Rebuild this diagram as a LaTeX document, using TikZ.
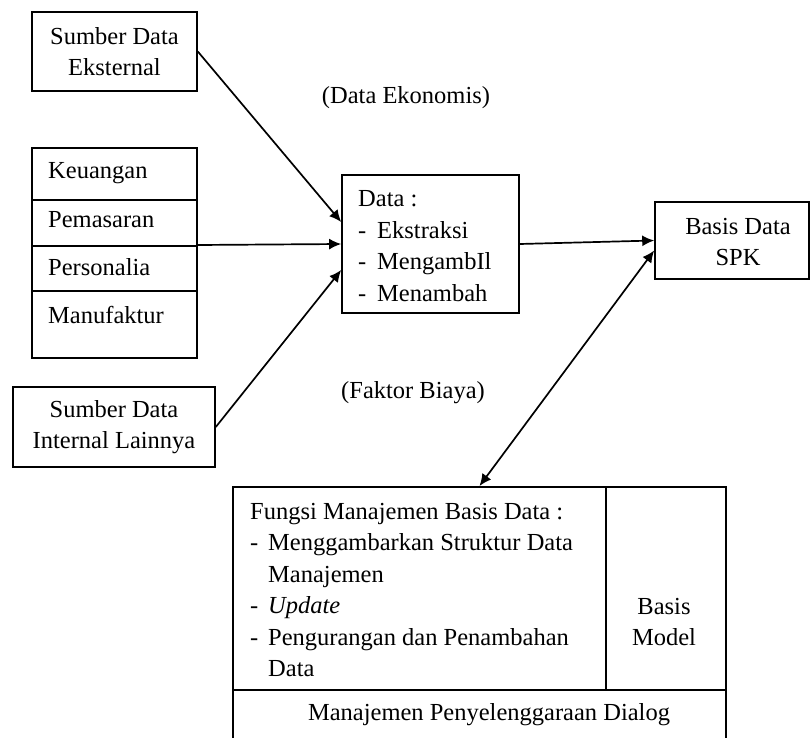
\documentclass[tikz,border=0pt]{standalone}
\usepackage{fontspec}
\setmainfont{Liberation Serif}
\usetikzlibrary{arrows.meta}
\begin{document}
\begin{tikzpicture}[x=1pt,y=-1pt,
  box/.style={draw, line width=1.6pt, inner sep=0pt, align=center},
  txt/.style={inner sep=0pt, align=left},
  tip/.style={Latex[length=12pt,width=11pt]},
  conn/.style={line width=1.7pt, -{Latex[length=12pt,width=11pt]}},
  font=\fontsize{24.5}{31.5}\selectfont]
\clip (0,0) rectangle (811,738);
\fill[white] (0,0) rectangle (811,738);
% boxes
\node[box, minimum width=165pt, minimum height=79pt] (ext) at (114.5,51.5) {Sumber Data\\Eksternal};
\node[box, minimum width=165pt, minimum height=210pt] (list) at (114.5,253) {};
\draw[line width=1.6pt] (32,200) -- (197,200) (32,246) -- (197,246) (32,291) -- (197,291);
\node[txt, anchor=west] (keu) at (48,173) {Keuangan};
\node[txt, anchor=west] (pem) at (48,220) {Pemasaran};
\node[txt, anchor=west] (per) at (48,267) {Personalia};
\node[txt, anchor=west] (man) at (48,315) {Manufaktur};
\node[box, minimum width=202pt, minimum height=80pt] (int) at (114,427) {Sumber Data\\Internal Lainnya};
\node[box, minimum width=177pt, minimum height=138pt] (data) at (430.5,244) {};
\node[txt, anchor=west] (datatxt) at (358,246) {Data :\\\makebox[19pt][l]{-}Ekstraksi\\\makebox[19pt][l]{-}MengambIl\\\makebox[19pt][l]{-}Menambah};
\node[box, minimum width=154pt, minimum height=77pt] (spk) at (732,240.5) {};
\node[inner sep=0pt, align=center] (spktxt) at (738,242) {Basis Data\\SPK};
\node[box, anchor=north, minimum width=493pt, minimum height=270pt] (bot) at (479.5,486) {};
\draw[line width=1.6pt] (606,486) -- (606,690) (233,690) -- (726,690);
\node[txt, anchor=west] (fungsi) at (250,590) {Fungsi Manajemen Basis Data :\\\makebox[18pt][l]{-}Menggambarkan Struktur Data\\\hspace*{18pt}Manajemen\\\makebox[18pt][l]{-}\textit{Update}\\\makebox[18pt][l]{-}Pengurangan dan Penambahan\\\hspace*{18pt}Data};
\node[inner sep=0pt, align=center] (model) at (664,622) {Basis\\Model};
\node[inner sep=0pt] (dialog) at (489,715) {Manajemen Penyelenggaraan Dialog};
% labels
\node[inner sep=0pt] (lbl1) at (406,98) {(Data Ekonomis)};
\node[inner sep=0pt] (lbl2) at (413,393) {(Faktor Biaya)};
% connectors
\draw[conn] (ext.east) -- ([yshift=22pt]data.west);
\draw[conn] ([yshift=8pt]list.east) -- (data.west);
\draw[conn] (int.east) -- ([yshift=-26pt]data.west);
\draw[conn] (data.east) -- (spk.west);
\draw[line width=1.7pt, {Latex[length=12pt,width=11pt]}-{Latex[length=12pt,width=11pt]}] ([yshift=-10pt]spk.west) -- (bot.north);
\end{tikzpicture}
\end{document}
